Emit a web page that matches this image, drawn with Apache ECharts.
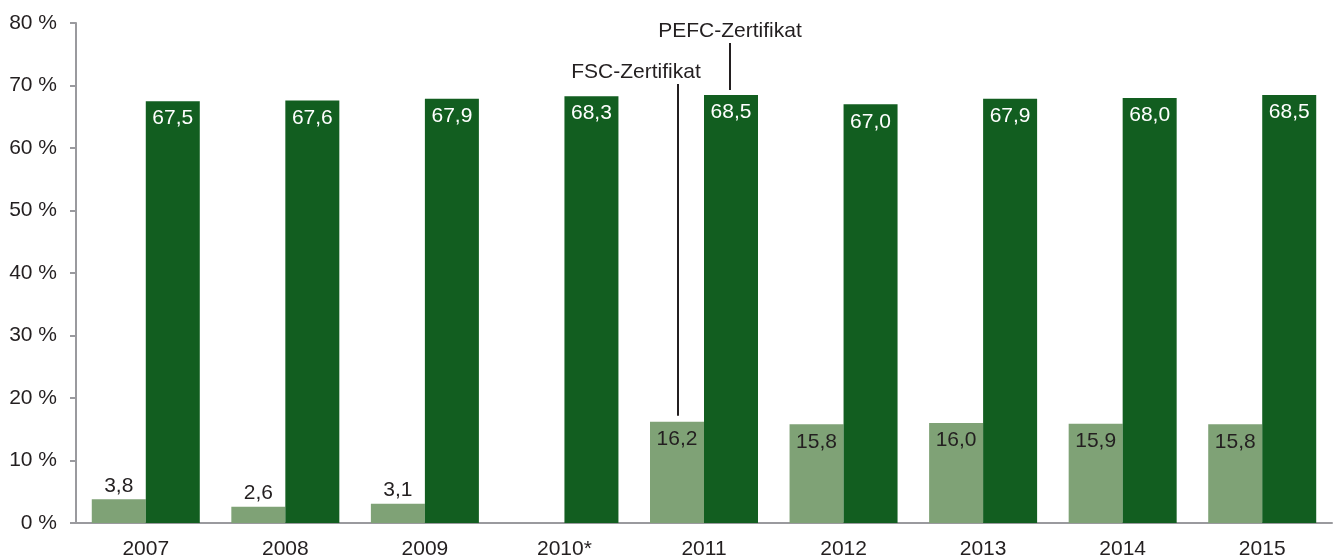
<!DOCTYPE html>
<html>
<head>
<meta charset="utf-8">
<script src="https://cdn.jsdelivr.net/npm/echarts@6/dist/echarts.min.js"></script>
<style>
  html, body { margin: 0; padding: 0; background: #fff; }
  #chart { width: 1336px; height: 558px; }
</style>
</head>
<body>
<div id="chart"></div>
<script>
// Jahre und Anteile (in %)
var years = ['2007', '2008', '2009', '2010*', '2011', '2012', '2013', '2014', '2015'];
var fscValues = [3.8, 2.6, 3.1, null, 16.2, 15.8, 16.0, 15.9, 15.8];
var pefcValues = [67.5, 67.6, 67.9, 68.3, 68.5, 67.0, 67.9, 68.0, 68.5];
var yTicks = [0, 10, 20, 30, 40, 50, 60, 70, 80];

var FONT = 'Liberation Sans, Arial, sans-serif';
var FS = 21;
var fmtComma = function(v) { return v.toFixed(1).replace('.', ','); };

var chart = echarts.init(document.getElementById('chart'));

// kleine Werte über dem Balken, sonst innen oben
var fscData = fscValues.map(function(v) {
  if (v === null) return null;
  return {
    value: v,
    label: { position: v < 10 ? 'top' : 'insideTop', distance: v < 10 ? 3 : 7 }
  };
});

var option = {
  animation: false,
  grid: { left: 76, right: 4, top: 23, bottom: 35, outerBoundsMode: 'none', containLabel: false },
  xAxis: {
    type: 'category',
    data: years,
    axisLine: { lineStyle: { color: '#9a9a9e', width: 2 } },
    axisTick: { show: false },
    axisLabel: { color: '#231f20', fontSize: FS, fontFamily: FONT, margin: 16 }
  },
  yAxis: {
    type: 'value',
    min: yTicks[0],
    max: yTicks[yTicks.length - 1],
    interval: 10,
    axisLine: { show: true, lineStyle: { color: '#9a9a9e', width: 2 } },
    axisTick: { show: true, length: 6, lineStyle: { color: '#9a9a9e', width: 2 } },
    splitLine: { show: false },
    axisLabel: { color: '#231f20', fontSize: FS, fontFamily: FONT, margin: 19,
      formatter: function(v) { return v + ' %'; } }
  },
  series: [{
    name: 'FSC',
    type: 'bar',
    data: fscData,
    barWidth: 54,
    barGap: '0%',
    itemStyle: { color: '#7fa276' },
    label: {
      show: true, color: '#231f20', fontSize: FS, fontFamily: FONT,
      formatter: function(p) { return fmtComma(p.value); }
    }
  }, {
    name: 'PEFC',
    type: 'bar',
    data: pefcValues,
    barWidth: 54,
    itemStyle: { color: '#125e20' },
    label: {
      show: true, position: 'insideTop', distance: 7, color: '#fff', fontSize: FS, fontFamily: FONT,
      formatter: function(p) { return fmtComma(p.value); }
    }
  }]
};

chart.setOption(option);

// Beschriftungen für 2011 mit Linien
var idx = years.indexOf('2011');
var base = chart.convertToPixel({ seriesIndex: 0 }, [idx, 0]);
var fscTop = chart.convertToPixel({ seriesIndex: 0 }, [idx, fscValues[idx]]);
var pefcTop = chart.convertToPixel({ seriesIndex: 1 }, [idx, pefcValues[idx]]);
var fscX = base[0] - 26;
var pefcX = base[0] + 26;

chart.setOption({
  graphic: [
    { type: 'line', shape: { x1: fscX, y1: 84, x2: fscX, y2: fscTop[1] - 6 },
      style: { stroke: '#231f20', lineWidth: 2 } },
    { type: 'text', x: fscX - 42, y: 72,
      style: { text: 'FSC-Zertifikat', fill: '#231f20', font: FS + 'px ' + FONT,
        textAlign: 'center', textVerticalAlign: 'middle' } },
    { type: 'line', shape: { x1: pefcX, y1: 43, x2: pefcX, y2: pefcTop[1] - 5 },
      style: { stroke: '#231f20', lineWidth: 2 } },
    { type: 'text', x: pefcX, y: 31,
      style: { text: 'PEFC-Zertifikat', fill: '#231f20', font: FS + 'px ' + FONT,
        textAlign: 'center', textVerticalAlign: 'middle' } }
  ]
});
</script>
</body>
</html>
